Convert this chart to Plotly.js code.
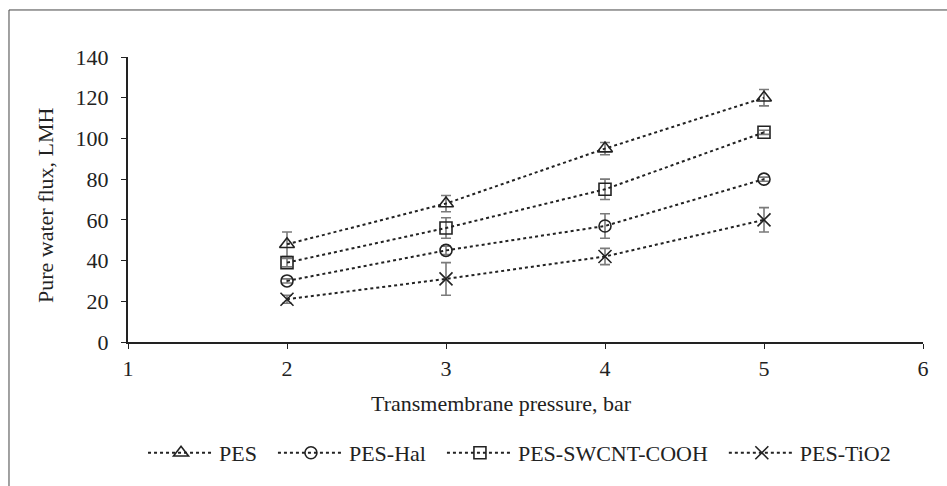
<!DOCTYPE html>
<html>
<head>
<meta charset="utf-8">
<script src="https://cdn.plot.ly/plotly-3.0.1.min.js"></script>
<style>
  html, body { margin: 0; padding: 0; background: #fff; }
  #chart { width: 947px; height: 486px; }
</style>
</head>
<body>
<div id="chart"></div>
<script>
// Transmembrane pressure (bar)
const pressure = [2, 3, 4, 5];

// Pure water flux (LMH) per membrane, with standard deviations
const fluxPES = [48, 68, 95, 120];
const errPES = [6, 4, 3, 4];
const fluxHal = [30, 45, 57, 80];
const errHal = [1, 2, 6, 1];
const fluxSWCNT = [39, 56, 75, 103];
const errSWCNT = [2, 5, 5, 1];
const fluxTiO2 = [21, 31, 42, 60];
const errTiO2 = [2, 8, 4, 6];

const seriesNames = ['PES', 'PES-Hal', 'PES-SWCNT-COOH', 'PES-TiO2'];
const xTickVals = [1, 2, 3, 4, 5, 6];
const yTickVals = [0, 20, 40, 60, 80, 100, 120, 140];
const xTitle = 'Transmembrane pressure, bar';
const yTitle = 'Pure water flux, LMH';

const ink = '#222222';
const serif = 'Liberation Serif, Times New Roman, serif';
const fontSize = 22;

// a little extra room after each legend entry but the last
const legendPad = '\u00a0\u00a0';

function series(name, y, err, symbol, size, pad) {
  return {
    type: 'scatter',
    mode: 'lines+markers',
    name: name + pad,
    x: pressure,
    y: y,
    line: { color: ink, width: 2, dash: 'dot' },
    marker: {
      symbol: symbol,
      size: size,
      color: ink,
      line: { color: ink, width: 1.6 }
    },
    error_y: {
      type: 'data',
      array: err,
      visible: true,
      color: '#7a7a7a',
      thickness: 1.6,
      width: 5
    }
  };
}

const data = [
  series(seriesNames[0], fluxPES, errPES, 'triangle-up-open', 13, legendPad),
  series(seriesNames[1], fluxHal, errHal, 'circle-open', 12, legendPad),
  series(seriesNames[2], fluxSWCNT, errSWCNT, 'square-open', 12, legendPad),
  series(seriesNames[3], fluxTiO2, errTiO2, 'x-thin-open', 13, '')
];

const layout = {
  width: 947,
  height: 486,
  margin: { l: 128, r: 24, t: 57, b: 144 },
  paper_bgcolor: '#ffffff',
  plot_bgcolor: '#ffffff',
  font: { family: serif, size: fontSize, color: ink },
  showlegend: true,
  legend: {
    orientation: 'h',
    xref: 'container',
    yref: 'container',
    x: 0.5486,
    xanchor: 'center',
    y: 0.068,
    yanchor: 'middle',
    font: { family: serif, size: fontSize, color: ink },
    itemwidth: 66,
    tracegroupgap: 0
  },
  xaxis: {
    range: [1, 6],
    tickvals: xTickVals,
    showgrid: false,
    zeroline: false,
    showline: true,
    linecolor: ink,
    linewidth: 2,
    ticks: 'outside',
    ticklen: 5,
    tickcolor: ink,
    tickwidth: 1,
    ticklabelstandoff: 1,
    tickfont: { family: serif, size: fontSize, color: ink }
  },
  yaxis: {
    range: [0, 140],
    tickvals: yTickVals,
    showgrid: false,
    zeroline: false,
    showline: true,
    linecolor: ink,
    linewidth: 2,
    ticks: 'outside',
    ticklen: 5,
    tickcolor: ink,
    tickwidth: 1,
    ticklabelstandoff: 8,
    tickfont: { family: serif, size: fontSize, color: ink }
  },
  annotations: [
    {
      text: xTitle,
      xref: 'paper', yref: 'paper',
      x: 0.4692, y: -0.2175,
      xanchor: 'center', yanchor: 'middle',
      showarrow: false,
      font: { family: serif, size: fontSize, color: ink }
    },
    {
      text: yTitle,
      textangle: -90,
      xref: 'paper', yref: 'paper',
      x: -0.1044, y: 0.4807,
      xanchor: 'center', yanchor: 'middle',
      showarrow: false,
      font: { family: serif, size: fontSize, color: ink }
    }
  ],
  shapes: [
    {
      type: 'rect',
      xref: 'paper', yref: 'paper',
      x0: -0.1497, x1: 1.2,
      y0: -0.7, y1: 1.165,
      line: { color: '#444444', width: 1 },
      fillcolor: 'rgba(0,0,0,0)',
      layer: 'below'
    }
  ]
};

Plotly.newPlot('chart', data, layout, { displayModeBar: false, staticPlot: true });
</script>
</body>
</html>
